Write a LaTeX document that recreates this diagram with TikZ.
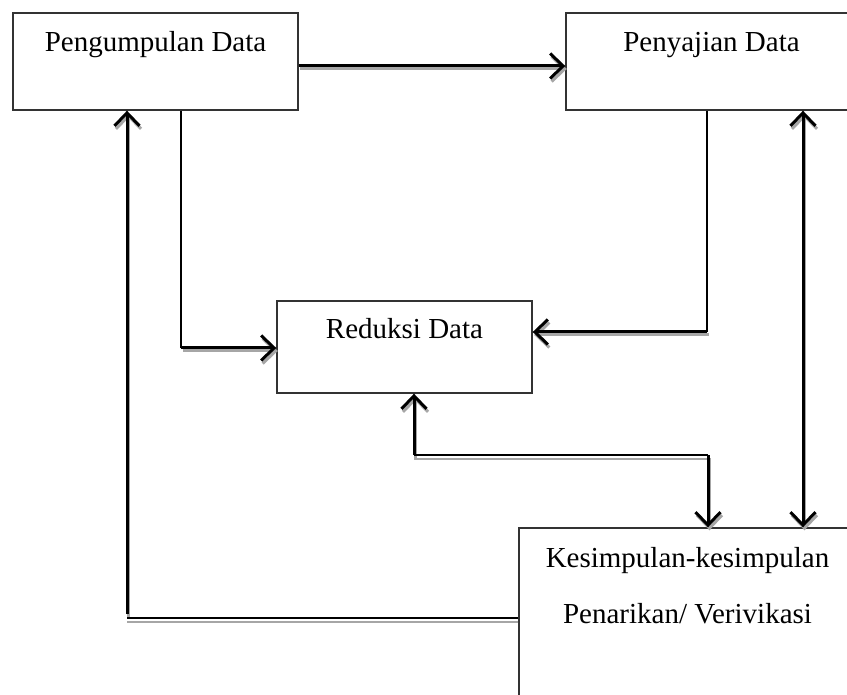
\documentclass[tikz,border=0pt]{standalone}
\usepackage{fontspec}
\setmainfont{Liberation Serif}
\usetikzlibrary{arrows.meta}
\begin{document}
\begin{tikzpicture}[x=1pt,y=-1pt,
  >={Straight Barb[length=13pt,width=25pt]},
  box/.style={draw=black!80, line width=1.4pt, inner sep=0pt},
  lbl/.style={anchor=base, inner sep=0pt, font=\fontsize{29}{34}\selectfont},
  heavy/.style={line width=3pt},
  light/.style={line width=1.4pt},
  shade/.style={draw=black!35}]
\useasboundingbox (0,0) rectangle (847,695);
\clip (0,0) rectangle (847,695);
% boxes
\node[box, minimum width=285pt, minimum height=97pt] (peng) at (155.5,61.5) {};
\node[box, minimum width=291pt, minimum height=97pt] (peny) at (711.5,61.5) {};
\node[box, minimum width=255pt, minimum height=92pt] (red) at (404.5,347) {};
\node[box, minimum width=337pt, minimum height=192pt] (kes) at (687.5,624) {};
% labels
\node[lbl] (pengT) at (155.5,52) {Pengumpulan Data};
\node[lbl] (penyT) at (711.5,52) {Penyajian Data};
\node[lbl] (redT) at (404.5,338) {Reduksi Data};
\node[lbl] (kesT1) at (687.5,567) {Kesimpulan-kesimpulan};
\node[lbl] (kesT2) at (687.5,623) {Penarikan/ Verivikasi};
% bend points
\coordinate (a1) at (181,348);
\coordinate (b1) at (707,332);
\coordinate (c1) at (414,455);
\coordinate (c2) at (708,455);
\coordinate (d1) at (127,618);
\coordinate (e1) at (803,0);
% grey shadows of the heavy connectors
\begin{scope}[transform canvas={xshift=1.5pt,yshift=-3pt}, shade]
  \draw[heavy,->] (peng.east |- 0,66) -- (peny.west |- 0,66);
  \draw[heavy,->] (a1) -- (red.west |- a1);
  \draw[heavy,->] (b1) -- (red.east |- b1);
  \draw[heavy,->] (c1) -- (red.south -| c1);
  \draw[heavy,->] (c2) -- (kes.north -| c2);
  \draw[heavy,<->] (peny.south -| e1) -- (kes.north -| e1);
  \draw[heavy,->] ([yshift=4pt]d1) -- (peng.south -| d1);
\end{scope}
\begin{scope}[transform canvas={yshift=-4pt}, shade]
  \draw[light] (c1) -- (c2);
  \draw[light] (kes.west |- d1) -- (d1);
\end{scope}
% Pengumpulan -> Penyajian
\draw[heavy,->] (peng.east |- 0,66) -- (peny.west |- 0,66);
% Pengumpulan -> Reduksi
\draw[light] (peng.south -| a1) -- (a1);
\draw[heavy,->] (a1) -- (red.west |- a1);
% Penyajian -> Reduksi
\draw[light] (peny.south -| b1) -- (b1);
\draw[heavy,->] (b1) -- (red.east |- b1);
% Reduksi <-> Kesimpulan
\draw[heavy,->] (c1) -- (red.south -| c1);
\draw[light] (c1) -- (c2);
\draw[heavy,->] (c2) -- (kes.north -| c2);
% Penyajian <-> Kesimpulan
\draw[heavy,<->] (peny.south -| e1) -- (kes.north -| e1);
% Kesimpulan -> Pengumpulan
\draw[light] (kes.west |- d1) -- (d1);
\draw[heavy,->] ([yshift=4pt]d1) -- (peng.south -| d1);
\end{tikzpicture}
\end{document}
